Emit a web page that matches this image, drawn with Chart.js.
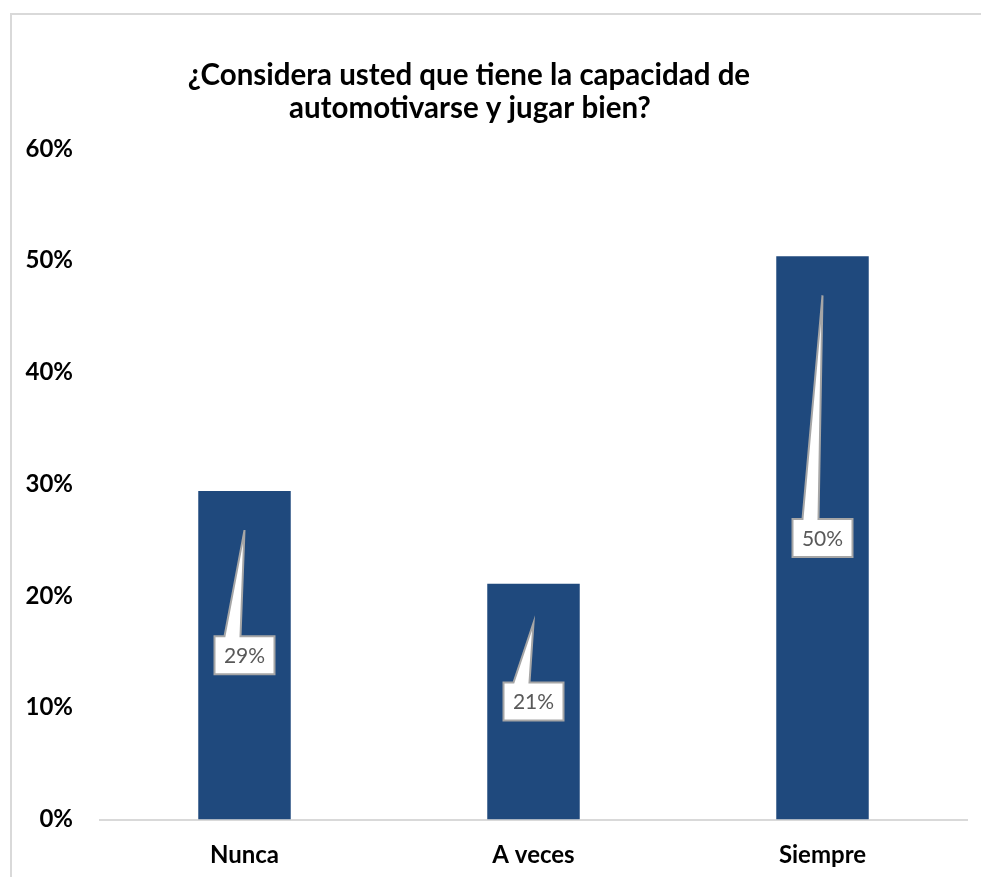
<!DOCTYPE html>
<html>
<head>
<meta charset="utf-8">
<script src="https://cdn.jsdelivr.net/npm/chart.js@4/dist/chart.umd.min.js"></script>
<style>
  body { margin: 0; background: #fff; }
  #wrap { position: relative; width: 981px; height: 877px; overflow: hidden; }
  #frame { position: absolute; left: 10px; top: 13px; width: 1200px; height: 1200px;
           border-left: 2px solid #d9d9d9; border-top: 2px solid #d9d9d9; pointer-events: none; }
</style>
</head>
<body>
<div id="wrap">
  <canvas id="chart" width="981" height="877"></canvas>
  <div id="frame"></div>
</div>
<script>
const titleLines = ['¿Considera usted que tiene la capacidad de', 'automotivarse y jugar bien?'];
const categories = ['Nunca', 'A veces', 'Siempre'];
const values = [29.4, 21.1, 50.4];
const labels = ['29%', '21%', '50%'];

// title drawn centred over the whole picture
const titlePlugin = {
    id: 'titleText',
    afterDraw(chart) {
        const ctx = chart.ctx;
        ctx.save();
        ctx.font = 'bold 29.5px Lato';
        ctx.fillStyle = '#000';
        ctx.textAlign = 'center';
        ctx.textBaseline = 'alphabetic';
        ctx.fillText(titleLines[0], 469, 85);
        ctx.fillText(titleLines[1], 470, 118);
        ctx.restore();
    }
};

// callout labels with a pointer into the bar
const calloutPlugin = {
    id: 'callouts',
    afterDatasetsDraw(chart) {
        const ctx = chart.ctx;
        const y = chart.scales.y;
        const meta = chart.getDatasetMeta(0);
        ctx.save();
        meta.data.forEach((bar, i) => {
            const v = values[i];
            const x = bar.x;
            const cy = y.getPixelForValue(v / 2);
            const tipY = y.getPixelForValue(v - 3.5);
            const w = 60, h = 38;
            const top = cy - h / 2;
            ctx.beginPath();
            ctx.moveTo(x - w / 2, top);
            ctx.lineTo(x - 20, top);
            ctx.lineTo(x, tipY);
            ctx.lineTo(x - 4, top);
            ctx.lineTo(x + w / 2, top);
            ctx.lineTo(x + w / 2, top + h);
            ctx.lineTo(x - w / 2, top + h);
            ctx.closePath();
            ctx.fillStyle = '#ffffff';
            ctx.fill();
            ctx.lineWidth = 2;
            ctx.strokeStyle = '#a6a6a6';
            ctx.stroke();
            ctx.font = '21px Lato';
            ctx.fillStyle = '#595959';
            ctx.textAlign = 'center';
            ctx.textBaseline = 'middle';
            ctx.fillText(labels[i], x, cy + 1);
        });
        ctx.restore();
    }
};

new Chart(document.getElementById('chart'), {
    type: 'bar',
    data: {
        labels: categories,
        datasets: [{
            data: values,
            backgroundColor: '#1f497d',
            categoryPercentage: 1,
            barPercentage: 0.32
        }]
    },
    options: {
        responsive: false,
        animation: false,
        devicePixelRatio: 1,
        layout: { padding: { top: 149, right: 14, left: 0, bottom: 0 } },
        plugins: {
            legend: { display: false },
            tooltip: { enabled: false }
        },
        scales: {
            x: {
                grid: { display: false, drawTicks: false },
                border: { color: '#d9d9d9', width: 2 },
                ticks: { color: '#000', font: { family: 'Lato', size: 24, weight: 'bold' }, padding: 21 },
                afterFit(scale) { scale.height = 57.5; }
            },
            y: {
                min: 0,
                max: 60,
                grid: { display: false, drawTicks: false },
                border: { display: false },
                ticks: {
                    stepSize: 10,
                    color: '#000',
                    font: { family: 'Lato', size: 24, weight: 'bold' },
                    padding: 27,
                    callback: v => v + '%'
                },
                afterFit(scale) { scale.width = 100; }
            }
        }
    },
    plugins: [titlePlugin, calloutPlugin]
});
</script>
</body>
</html>
